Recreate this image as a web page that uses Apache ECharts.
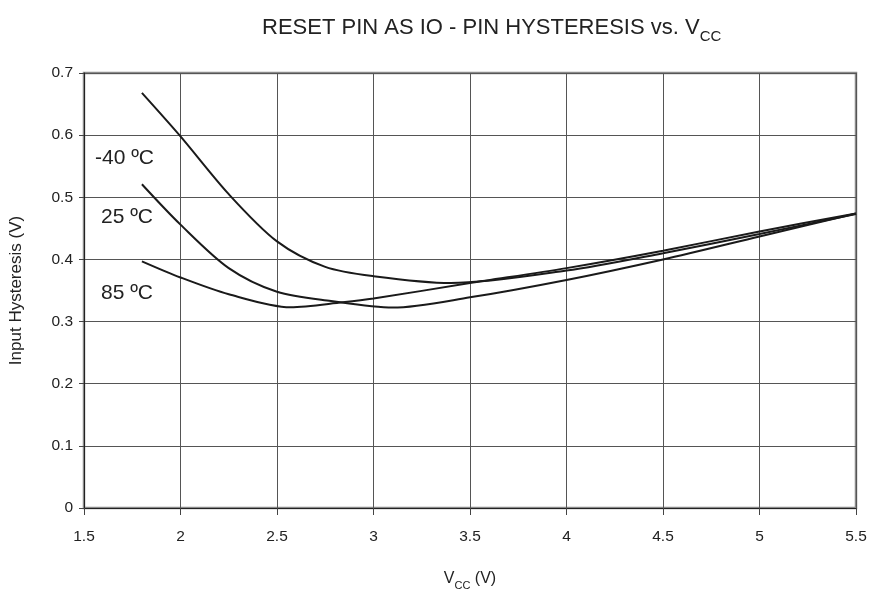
<!DOCTYPE html>
<html><head><meta charset="utf-8">
<script src="https://cdn.jsdelivr.net/npm/echarts@6/dist/echarts.min.js"></script>
<style>html,body{margin:0;padding:0;background:#fff}#c{width:880px;height:590px}</style>
</head><body><div id="c"></div>
<script>
const xTicks = ['1.5','2','2.5','3','3.5','4','4.5','5','5.5'];
const yTicks = ['0','0.1','0.2','0.3','0.4','0.5','0.6','0.7'];
const vccM40 = [1.8, 2.0, 2.25, 2.5, 2.75, 3.0, 3.4, 4.0, 4.5, 5.0, 5.5];
const hysM40 = [0.668, 0.598, 0.505, 0.429, 0.388, 0.373, 0.362, 0.382, 0.410, 0.441, 0.473];
const vcc25 = [1.8, 2.0, 2.25, 2.5, 2.78, 3.1, 3.5, 4.0, 4.5, 5.0, 5.5];
const hys25 = [0.521, 0.456, 0.386, 0.348, 0.333, 0.3225, 0.339, 0.367, 0.400, 0.437, 0.474];
const vcc85 = [1.8, 2.0, 2.25, 2.57, 2.84, 3.0, 3.5, 4.0, 4.5, 5.0, 5.5];
const hys85 = [0.397, 0.371, 0.344, 0.323, 0.331, 0.337, 0.362, 0.386, 0.414, 0.445, 0.474];
const seriesNames = ['-40 ºC', '25 ºC', '85 ºC'];

const zip = (a, b) => a.map((v, i) => [v, b[i]]);
const font = '"Liberation Sans", Arial, sans-serif';
const chart = echarts.init(document.getElementById('c'));
const lineStyle = {color: '#1a1a1a', width: 2};
const mk = (name, xs, ys) => ({name, type: 'line', data: zip(xs, ys), smooth: 0.3,
  showSymbol: false, lineStyle});
chart.setOption({
  animation: false,
  title: {
    text: '{a|RESET PIN AS IO - PIN HYSTERESIS vs. V}{s|CC}',
    left: 257, top: 8,
    textStyle: {fontWeight: 'normal', rich: {
      a: {fontFamily: font, fontSize: 22, fontWeight: 'normal', color: '#222', lineHeight: 26, verticalAlign: 'bottom'},
      s: {fontFamily: font, fontSize: 15, fontWeight: 'normal', color: '#222', lineHeight: 26, verticalAlign: 'bottom', padding: [0,0,-5,0]}
    }}
  },
  grid: {left: 84, right: 24, top: 73, bottom: 82, show: true, borderColor: '#8a8a8a', borderWidth: 2.5,
    outerBoundsMode: 'none', containLabel: false},
  xAxis: {
    type: 'value', min: 1.5, max: 5.5, interval: 0.5,
    name: '{a|V}{s|CC}{a| (V)}', nameLocation: 'middle', nameGap: 59,
    nameTextStyle: {rich: {
      a: {fontFamily: font, fontSize: 16, color: '#222', lineHeight: 20, verticalAlign: 'bottom'},
      s: {fontFamily: font, fontSize: 11, color: '#222', lineHeight: 20, verticalAlign: 'bottom', padding: [0,0,-4,0]}
    }},
    axisLine: {show: true, onZero: false, lineStyle: {color: '#222', width: 1}},
    axisTick: {show: true, inside: false, length: 7, lineStyle: {color: '#444'}},
    axisLabel: {fontFamily: font, fontSize: 15.5, color: '#222', margin: 21,
      formatter: v => xTicks[Math.round((v - 1.5) / 0.5)]},
    splitLine: {show: true, lineStyle: {color: '#555', width: 1}}
  },
  yAxis: {
    type: 'value', min: 0, max: 0.7, interval: 0.1,
    name: 'Input Hysteresis (V)', nameLocation: 'middle', nameGap: 59,
    nameTextStyle: {fontFamily: font, fontSize: 17, color: '#222'},
    axisLine: {show: true, lineStyle: {color: '#222', width: 1}},
    axisTick: {show: true, inside: false, length: 5, lineStyle: {color: '#444'}},
    axisLabel: {fontFamily: font, fontSize: 15.5, color: '#222', margin: 11,
      formatter: v => yTicks[Math.round(v / 0.1)]},
    splitLine: {show: true, lineStyle: {color: '#555', width: 1}}
  },
  series: [mk(seriesNames[0], vccM40, hysM40), mk(seriesNames[1], vcc25, hys25), mk(seriesNames[2], vcc85, hys85)],
  graphic: [
    {type: 'text', left: 95, top: 148, style: {text: seriesNames[0], fontSize: 21, fontFamily: font, fill: '#222'}},
    {type: 'text', left: 101, top: 207, style: {text: seriesNames[1], fontSize: 21, fontFamily: font, fill: '#222'}},
    {type: 'text', left: 101, top: 283, style: {text: seriesNames[2], fontSize: 21, fontFamily: font, fill: '#222'}}
  ]
});
</script></body></html>
